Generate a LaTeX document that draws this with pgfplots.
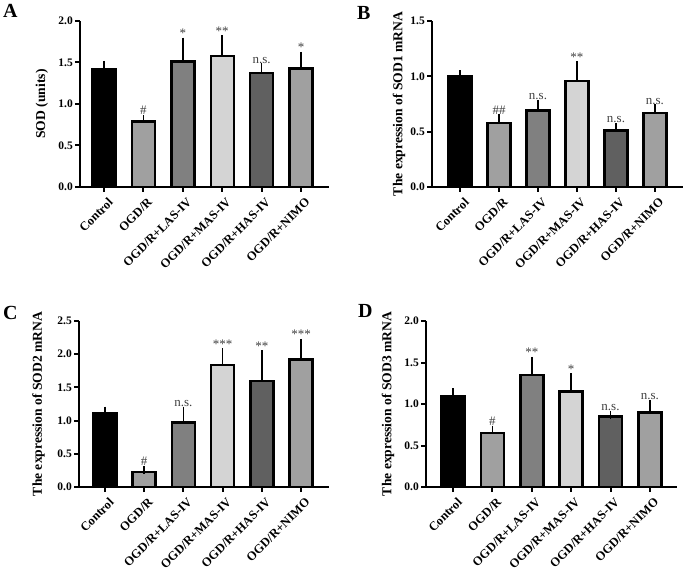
\documentclass[border=0pt]{standalone}
\usepackage{pgfplots}
\pgfplotsset{compat=1.18}
\usepackage{fontspec}
\setmainfont{Liberation Serif}
\definecolor{cCtl}{HTML}{000000}
\definecolor{cOGD}{HTML}{A0A0A0}
\definecolor{cLAS}{HTML}{808080}
\definecolor{cMAS}{HTML}{D4D4D4}
\definecolor{cHAS}{HTML}{606060}
\definecolor{cNIMO}{HTML}{A0A0A0}
\definecolor{anncol}{HTML}{404040}
\tikzset{ann/.style={font=\fontsize{13}{13}\selectfont, text=anncol, anchor=south, inner sep=1pt, yshift=3pt}}
\pgfplotsset{
  sodaxis/.style={
    scale only axis, anchor=south west, clip=false,
    ymin=0, ytick distance=0.5,
    xtick={0,1,2,3,4,5},
    xticklabels={Control,OGD/R,OGD/R+LAS-IV,OGD/R+MAS-IV,OGD/R+HAS-IV,OGD/R+NIMO},
    axis x line*=bottom, axis y line*=left,
    axis line style={line width=2pt, -},
    tick align=outside, major tick length=5pt,
    every tick/.style={line width=2pt, black},
    /pgf/number format/assume math mode=true,
    xticklabel style={rotate=45, anchor=north east, font=\bfseries\fontsize{12.5}{12.5}\selectfont, inner sep=1pt, yshift=-5pt},
    yticklabel style={font=\bfseries\fontsize{11.5}{11.5}\selectfont, /pgf/number format/fixed, /pgf/number format/fixed zerofill, /pgf/number format/precision=1, inner sep=2pt},
    ylabel style={font=\bfseries\fontsize{13.6}{13.6}\selectfont},
  },
  sbar/.style={ybar, bar width=23pt, bar shift=0pt, fill=#1, draw=black, line width=2.4pt,
    error bars/.cd, y dir=plus, y explicit,
    error bar style={line width=1.5pt, black},
    error mark options={line width=1.5pt, mark size=4pt, black}},
}
\begin{document}
\begin{tikzpicture}
\useasboundingbox (0pt,0pt) rectangle (685pt,573pt);
% Panel letters
\node[anchor=base west, inner sep=0pt, font=\bfseries\fontsize{20}{20}\selectfont] at (3pt,555pt) {A};
\node[anchor=base west, inner sep=0pt, font=\bfseries\fontsize{20}{20}\selectfont] at (357pt,553pt) {B};
\node[anchor=base west, inner sep=0pt, font=\bfseries\fontsize{20}{20}\selectfont] at (3pt,253pt) {C};
\node[anchor=base west, inner sep=0pt, font=\bfseries\fontsize{20}{20}\selectfont] at (358pt,255pt) {D};

% ---------------- A ----------------
\begin{axis}[sodaxis, at={(80pt,386pt)}, width=249pt, height=166pt,
  xmin=-0.61, xmax=5.71, ymax=2.0,
  ylabel={SOD (units)}, ylabel style={at={(axis description cs:-0.153,0.5)}, anchor=center}]
\addplot[sbar=cCtl]  coordinates {(0,1.42) +- (0,0.05)};
\addplot[sbar=cOGD]  coordinates {(1,0.79) +- (0,0.03)};
\addplot[sbar=cLAS]  coordinates {(2,1.51) +- (0,0.24)};
\addplot[sbar=cMAS]  coordinates {(3,1.58) +- (0,0.20)};
\addplot[sbar=cHAS]  coordinates {(4,1.37) +- (0,0.07)};
\addplot[sbar=cNIMO] coordinates {(5,1.43) +- (0,0.15)};
\node[ann] at (axis cs:1,0.82) {\#};
\node[ann] at (axis cs:2,1.75) {*};
\node[ann] at (axis cs:3,1.78) {**};
\node[ann] at (axis cs:4,1.44) {n.s.};
\node[ann] at (axis cs:5,1.58) {*};
\end{axis}

% ---------------- B ----------------
\begin{axis}[sodaxis, at={(432pt,386pt)}, width=251pt, height=166pt,
  xmin=-0.72, xmax=5.72, ymax=1.5,
  ylabel={The expression of SOD1 mRNA}, ylabel style={at={(axis description cs:-0.131,0.5)}, anchor=center}]
\addplot[sbar=cCtl]  coordinates {(0,1.00) +- (0,0.02)};
\addplot[sbar=cOGD]  coordinates {(1,0.58) +- (0,0.04)};
\addplot[sbar=cLAS]  coordinates {(2,0.69) +- (0,0.06)};
\addplot[sbar=cMAS]  coordinates {(3,0.96) +- (0,0.14)};
\addplot[sbar=cHAS]  coordinates {(4,0.51) +- (0,0.03)};
\addplot[sbar=cNIMO] coordinates {(5,0.67) +- (0,0.04)};
\node[ann] at (axis cs:1,0.62) {\#\#};
\node[ann] at (axis cs:2,0.75) {n.s.};
\node[ann] at (axis cs:3,1.10) {**};
\node[ann] at (axis cs:4,0.54) {n.s.};
\node[ann] at (axis cs:5,0.71) {n.s.};
\end{axis}

% ---------------- C ----------------
\begin{axis}[sodaxis, at={(79pt,86pt)}, width=250pt, height=166pt,
  xmin=-0.66, xmax=5.71, ymax=2.5,
  ylabel={The expression of SOD2 mRNA}, ylabel style={at={(axis description cs:-0.162,0.5)}, anchor=center}]
\addplot[sbar=cCtl]  coordinates {(0,1.11) +- (0,0.04)};
\addplot[sbar=cOGD]  coordinates {(1,0.23) +- (0,0.03)};
\addplot[sbar=cLAS]  coordinates {(2,0.97) +- (0,0.18)};
\addplot[sbar=cMAS]  coordinates {(3,1.84) +- (0,0.19)};
\addplot[sbar=cHAS]  coordinates {(4,1.60) +- (0,0.40)};
\addplot[sbar=cNIMO] coordinates {(5,1.92) +- (0,0.25)};
\node[ann] at (axis cs:1,0.26) {\#};
\node[ann] at (axis cs:2,1.15) {n.s.};
\node[ann] at (axis cs:3,2.03) {***};
\node[ann] at (axis cs:4,2.00) {**};
\node[ann] at (axis cs:5,2.17) {***};
\end{axis}

% ---------------- D ----------------
\begin{axis}[sodaxis, at={(426pt,86pt)}, width=251pt, height=166pt,
  xmin=-0.69, xmax=5.69, ymax=2.0,
  ylabel={The expression of SOD3 mRNA}, ylabel style={at={(axis description cs:-0.151,0.5)}, anchor=center}]
\addplot[sbar=cCtl]  coordinates {(0,1.09) +- (0,0.05)};
\addplot[sbar=cOGD]  coordinates {(1,0.65) +- (0,0.04)};
\addplot[sbar=cLAS]  coordinates {(2,1.35) +- (0,0.17)};
\addplot[sbar=cMAS]  coordinates {(3,1.15) +- (0,0.17)};
\addplot[sbar=cHAS]  coordinates {(4,0.85) +- (0,0.02)};
\addplot[sbar=cNIMO] coordinates {(5,0.90) +- (0,0.10)};
\node[ann] at (axis cs:1,0.69) {\#};
\node[ann] at (axis cs:2,1.52) {**};
\node[ann] at (axis cs:3,1.32) {*};
\node[ann] at (axis cs:4,0.87) {n.s.};
\node[ann] at (axis cs:5,1.00) {n.s.};
\end{axis}
\end{tikzpicture}
\end{document}
